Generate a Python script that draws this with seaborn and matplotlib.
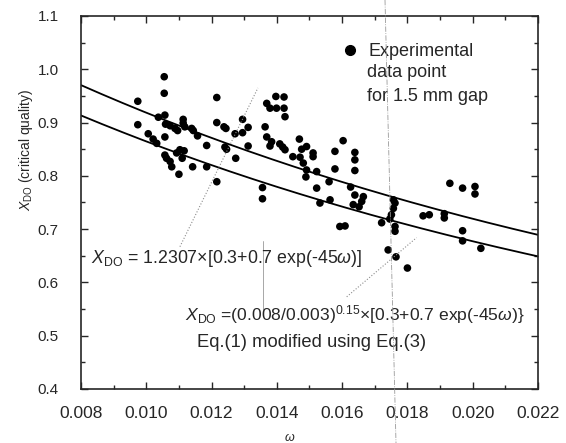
import numpy as np
import pandas as pd
import matplotlib
matplotlib.use("Agg")
import matplotlib.pyplot as plt
import seaborn as sns
from matplotlib.lines import Line2D

omega = [
    0.00974, 0.00974, 0.01055, 0.01055, 0.01037, 0.01057, 0.01059, 0.01073, 0.01088, 0.01096,
    0.01113, 0.01113, 0.01118, 0.01139, 0.01144, 0.01157, 0.01006, 0.01021, 0.01032, 0.01057,
    0.01057, 0.01062, 0.01073, 0.01078, 0.01093, 0.01103, 0.01116, 0.01110, 0.01100, 0.01142,
    0.01216, 0.01216, 0.01238, 0.01244, 0.01185, 0.01241, 0.01246, 0.01272, 0.01295, 0.01295,
    0.01312, 0.01312, 0.01274, 0.01185, 0.01216, 0.01356, 0.01356, 0.01397, 0.01422, 0.01369,
    0.01379, 0.01399, 0.01422, 0.01425, 0.01364, 0.01369, 0.01384, 0.01379, 0.01409, 0.01418,
    0.01425, 0.01469, 0.01449, 0.01471, 0.01476, 0.01491, 0.01481, 0.01491, 0.01489,
    0.01511, 0.01511, 0.01522, 0.01560, 0.01522, 0.01532, 0.01563, 0.01603, 0.01578, 0.01578,
    0.01639, 0.01639, 0.01639, 0.01626, 0.01639, 0.01665, 0.01660, 0.01652, 0.01634, 0.01593,
    0.01609, 0.01757, 0.01762, 0.01757, 0.01751, 0.01746, 0.01721, 0.01762, 0.01762, 0.01741,
    0.01765, 0.01930, 0.01969, 0.02007, 0.02007, 0.01848, 0.01867, 0.01913, 0.01913, 0.01969,
    0.01969, 0.02025, 0.01800,
]
xdo = [
    0.940, 0.896, 0.986, 0.955, 0.910, 0.914, 0.897, 0.894, 0.889, 0.885,
    0.906, 0.899, 0.892, 0.889, 0.885, 0.875, 0.879, 0.869, 0.861, 0.873,
    0.839, 0.833, 0.827, 0.817, 0.843, 0.849, 0.847, 0.833, 0.803, 0.817,
    0.947, 0.900, 0.892, 0.889, 0.857, 0.854, 0.850, 0.879, 0.906, 0.881,
    0.891, 0.856, 0.833, 0.817, 0.789, 0.778, 0.757, 0.949, 0.948, 0.936,
    0.927, 0.927, 0.927, 0.911, 0.892, 0.873, 0.864, 0.856, 0.860, 0.854,
    0.849, 0.869, 0.836, 0.835, 0.850, 0.855, 0.824, 0.811, 0.798,
    0.843, 0.836, 0.808, 0.789, 0.777, 0.749, 0.755, 0.866, 0.846, 0.813,
    0.844, 0.830, 0.810, 0.779, 0.764, 0.761, 0.752, 0.742, 0.746, 0.705,
    0.706, 0.755, 0.749, 0.739, 0.727, 0.719, 0.712, 0.705, 0.696, 0.661,
    0.648, 0.786, 0.777, 0.780, 0.766, 0.725, 0.727, 0.729, 0.721, 0.697,
    0.678, 0.664, 0.627,
]

# correlation curves: X_DO = C * [0.3 + 0.7 exp(-45 w)]
c_upper = 1.2307
c_lower = (0.008 / 0.003) ** 0.15
w_grid = np.linspace(0.008, 0.022, 200)

pts = pd.DataFrame({"omega": omega, "xdo": xdo})
curves = pd.DataFrame({
    "omega": np.concatenate([w_grid, w_grid]),
    "xdo": np.concatenate([c_upper * (0.3 + 0.7 * np.exp(-45 * w_grid)),
                           c_lower * (0.3 + 0.7 * np.exp(-45 * w_grid))]),
    "eq": ["upper"] * len(w_grid) + ["lower"] * len(w_grid),
})

sns.set_style("ticks")
plt.rcParams['font.family'] = ['Liberation Sans', 'DejaVu Sans']
plt.rcParams['mathtext.fontset'] = 'custom'
plt.rcParams['mathtext.rm'] = 'Liberation Sans'
plt.rcParams['mathtext.it'] = 'Liberation Sans:italic'
plt.rcParams['mathtext.bf'] = 'Liberation Sans:bold'

fig = plt.figure(figsize=(5.66, 4.43), dpi=100)
ax = fig.add_axes([0.1431, 0.1219, 0.8074, 0.8420])

sns.lineplot(data=curves, x="omega", y="xdo", units="eq", estimator=None,
             color="black", lw=1.3, ax=ax, legend=False)
sns.scatterplot(data=pts, x="omega", y="xdo", color="black", s=30,
                edgecolor="none", ax=ax, legend=False)

ax.set_xlim(0.008, 0.022)
ax.set_ylim(0.4, 1.1)
ax.set_xticks(np.arange(0.008, 0.0221, 0.002))
ax.set_xticklabels(["0.008", "0.010", "0.012", "0.014", "0.016", "0.018", "0.020", "0.022"])
ax.set_xticks(np.arange(0.008, 0.0221, 0.001), minor=True)
ax.set_yticks(np.arange(0.4, 1.101, 0.1))
ax.set_yticklabels(["0.4", "0.5", "0.6", "0.7", "0.8", "0.9", "1.0", "1.1"])
ax.set_yticks(np.arange(0.4, 1.101, 0.05), minor=True)
ax.tick_params(which="both", direction="in", top=True, right=True, width=1)
ax.tick_params(which="major", length=5)
ax.tick_params(which="minor", length=3)
ax.tick_params(axis="x", labelsize=12.5, pad=12)
ax.tick_params(axis="y", labelsize=11, pad=16)
for sp in ax.spines.values():
    sp.set_linewidth(1.2)

ax.set_xlabel(r"$\omega$", fontsize=9)
ax.set_ylabel(r"$X_{\rm DO}$ (critical quality)", fontsize=10)
ax.xaxis.set_label_coords(0.457, -0.115)
ax.yaxis.set_label_coords(-0.10, 0.64)

# legend for the data points
handle = Line2D([], [], marker="o", color="black", ls="none", markersize=7)
ax.legend([handle], ["Experimental"], loc="center left", bbox_to_anchor=(0.5735, 0.905),
          frameon=False, handlelength=0.8, handletextpad=0.62, borderpad=0,
          borderaxespad=0, fontsize=13)
ax.text(0.625, 0.848, "data point", transform=ax.transAxes, fontsize=13, va="center")
ax.text(0.625, 0.7835, "for 1.5 mm gap", transform=ax.transAxes, fontsize=13, va="center")

# equation labels
ax.text(0.0083, 0.645, r"$X_{\rm DO}$ = 1.2307$\times$[0.3+0.7 exp(-45$\omega$)]",
        fontsize=12.8, va="center")
ax.text(0.01118, 0.540,
        r"$X_{\rm DO}$ =(0.008/0.003)$^{0.15}$$\times$[0.3+0.7 exp(-45$\omega$)}",
        fontsize=12.6, va="center")
ax.text(0.01155, 0.487, "Eq.(1) modified using Eq.(3)", fontsize=13.2, va="center")

# faint leader lines
ax.plot([0.01103, 0.01342], [0.667, 0.965], ls=":", color="0.55", lw=0.8)
ax.plot([0.01614, 0.01828], [0.573, 0.684], ls=":", color="0.55", lw=0.8)
ax.plot([0.01357, 0.01357], [0.677, 0.549], ls="-", color="0.6", lw=0.6)

# scan crease
fig.add_artist(Line2D([385 / 566, 396 / 566], [1.0, 0.0], ls="-.", color="0.6", lw=0.6))

fig.savefig("out.png", dpi=100)
